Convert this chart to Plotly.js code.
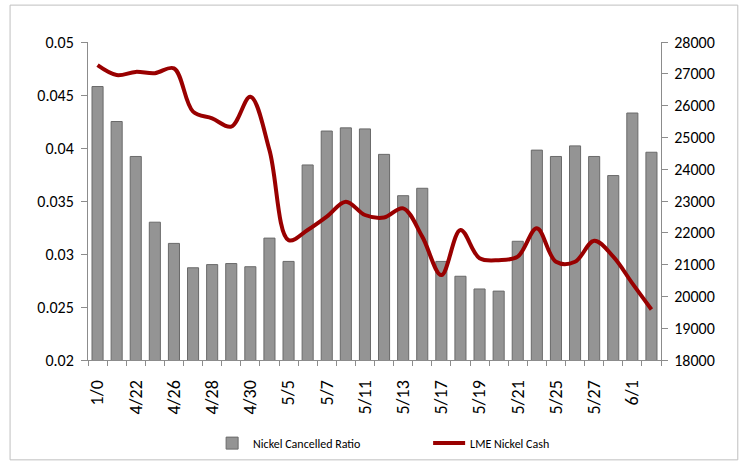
<!DOCTYPE html>
<html>
<head>
<meta charset="utf-8">
<script src="https://cdn.plot.ly/plotly-3.0.1.min.js"></script>
<style>
html,body{margin:0;padding:0;background:#fff;}
#chart{width:746px;height:464px;}
</style>
</head>
<body>
<div id="chart"></div>
<script>
const categories = ["1/0","4/21","4/22","4/23","4/26","4/27","4/28","4/29","4/30","5/4",
  "5/5","5/6","5/7","5/10","5/11","5/12","5/13","5/14","5/17","5/18",
  "5/19","5/20","5/21","5/24","5/25","5/26","5/27","5/28","6/1","6/2"];
const cancelledRatio = [0.0458,0.0425,0.0392,0.0330,0.0310,0.0287,0.0290,0.0291,0.0288,0.0315,
  0.0293,0.0384,0.0416,0.0419,0.0418,0.0394,0.0355,0.0362,0.0293,0.0279,
  0.0267,0.0265,0.0312,0.0398,0.0392,0.0402,0.0392,0.0374,0.0433,0.0396];
const nickelCash = [27270,26960,27060,27020,27170,25810,25600,25340,26280,24600,
  21770,22090,22510,22980,22560,22480,22770,21880,20670,22090,
  21200,21140,21250,22140,21090,21090,21750,21250,20410,19590];
const shownLabels = ["1/0","4/22","4/26","4/28","4/30","5/5","5/7","5/11","5/13","5/17","5/19","5/21","5/25","5/27","6/1"];
const tickText = categories.map(c => shownLabels.includes(c) ? c : "");

const FONT = "Carlito, 'Liberation Sans Narrow', 'Liberation Sans', Arial, sans-serif";

const traces = [
  {
    type: "bar", name: "Nickel Cancelled Ratio",
    x: categories, y: cancelledRatio, yaxis: "y",
    marker: {color: "#949494", line: {color: "#6a6a6a", width: 1}}
  },
  {
    type: "scatter", mode: "lines", name: "LME Nickel Cash",
    x: categories, y: nickelCash, yaxis: "y2",
    line: {color: "#990000", width: 4, shape: "spline", smoothing: 1}
  }
];

const axisCommon = {
  showgrid: false, zeroline: false, showline: true,
  linecolor: "#8c8c8c", linewidth: 1,
  ticks: "outside", ticklen: 6, tickcolor: "#8c8c8c",
  tickfont: {family: FONT, size: 16, color: "#000"},
  automargin: false
};

const layout = {
  width: 746, height: 464,
  margin: {l: 88, r: 85, t: 42, b: 104},
  paper_bgcolor: "#fff", plot_bgcolor: "#fff",
  bargap: 0.42,
  showlegend: true,
  legend: {
    orientation: "h", xref: "container", yref: "container",
    x: 0.283, xanchor: "left", y: 0.045, yanchor: "middle",
    font: {family: FONT, size: 12, color: "#000"},
    entrywidth: 170, itemwidth: 32
  },
  xaxis: Object.assign({}, axisCommon, {
    type: "category", categoryorder: "array", categoryarray: categories,
    tickmode: "array", tickvals: categories, ticktext: tickText,
    tickangle: -90, tickson: "boundaries", ticklen: 5, ticklabelstandoff: 12,
    tickfont: {family: FONT, size: 18, color: "#000"}
  }),
  yaxis: Object.assign({}, axisCommon, {
    range: [0.02, 0.05], dtick: 0.005, tick0: 0.02, tickformat: ".3~g",
    ticklabelstandoff: 4
  }),
  yaxis2: Object.assign({}, axisCommon, {
    overlaying: "y", side: "right",
    range: [18000, 28000], dtick: 1000, tick0: 18000, tickformat: "d",
    ticklabelstandoff: 3
  }),
  shapes: [{
    type: "rect", xref: "paper", yref: "paper",
    x0: -0.136, x1: 1.134, y0: -0.314, y1: 1.116,
    line: {color: "#bfbfbf", width: 1}, fillcolor: "rgba(0,0,0,0)", layer: "below"
  }]
};

Plotly.newPlot("chart", traces, layout, {displayModeBar: false, staticPlot: true});
</script>
</body>
</html>
